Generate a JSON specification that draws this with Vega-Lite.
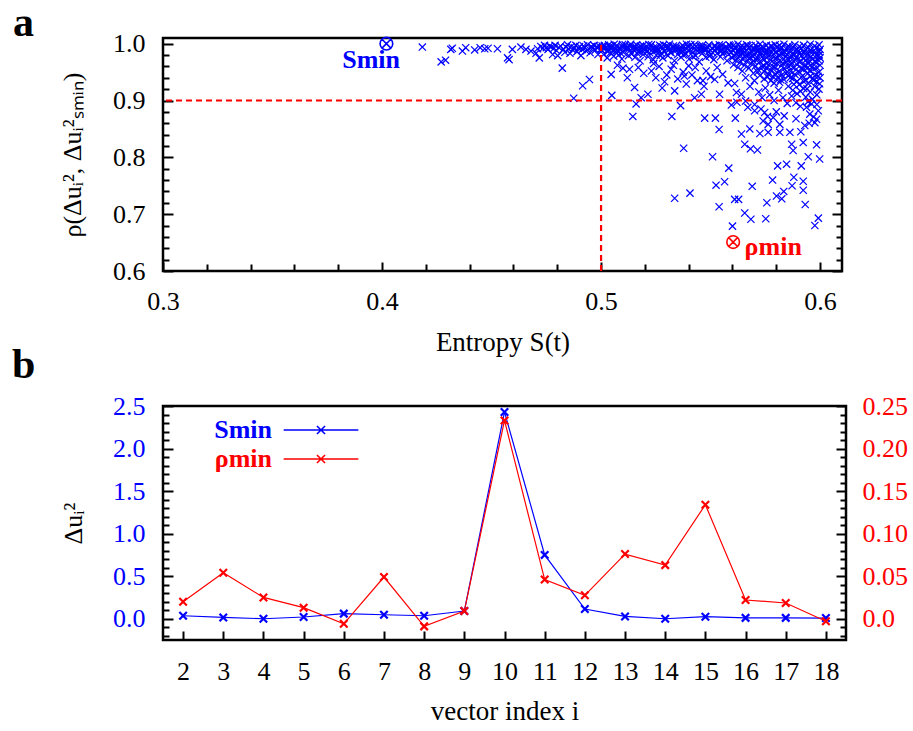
{
"$schema": "https://vega.github.io/schema/vega-lite/v6.json",
"background": "white",
"padding": {"left": 10, "top": 0, "right": 5, "bottom": 5},
"spacing": 135,
"bounds": "flush",
"resolve": {"scale": {"color": "independent", "stroke": "independent"}, "legend": {"color": "independent", "stroke": "independent"}},
"datasets": {
"pts": [
{"S":0.4184,"rho":0.994},{"S":0.4270,"rho":0.968},{"S":0.4290,"rho":0.971},{"S":0.4314,"rho":0.990},{"S":0.4321,"rho":0.992},{"S":0.4367,"rho":0.987},{"S":0.4382,"rho":0.993},{"S":0.4423,"rho":0.989},{"S":0.4448,"rho":0.993},{"S":0.4469,"rho":0.991},{"S":0.4484,"rho":0.992},{"S":0.4527,"rho":0.991},{"S":0.4573,"rho":0.975},{"S":0.4580,"rho":0.972},{"S":0.4595,"rho":0.990},{"S":0.4634,"rho":0.994},{"S":0.4657,"rho":0.990},{"S":0.4680,"rho":0.987},{"S":0.4703,"rho":0.983},{"S":0.4718,"rho":0.975},{"S":0.4710,"rho":0.991},{"S":0.4725,"rho":0.995},{"S":0.4735,"rho":0.992},{"S":0.4742,"rho":0.997},{"S":0.4750,"rho":0.993},{"S":0.4758,"rho":0.990},{"S":0.4765,"rho":0.996},{"S":0.4772,"rho":0.994},{"S":0.4779,"rho":0.981},{"S":0.4785,"rho":0.992},{"S":0.4790,"rho":0.997},{"S":0.4796,"rho":0.988},{"S":0.4802,"rho":0.979},{"S":0.4808,"rho":0.993},{"S":0.4815,"rho":0.996},{"S":0.4823,"rho":0.957},{"S":0.4828,"rho":0.990},{"S":0.4835,"rho":0.985},{"S":0.4840,"rho":0.994},{"S":0.4847,"rho":0.998},{"S":0.4852,"rho":0.991},{"S":0.4858,"rho":0.983},{"S":0.4864,"rho":0.995},{"S":0.4870,"rho":0.989},{"S":0.4875,"rho":0.904},{"S":0.4878,"rho":0.993},{"S":0.4885,"rho":0.997},{"S":0.4890,"rho":0.986},{"S":0.4896,"rho":0.992},{"S":0.4902,"rho":0.995},{"S":0.4908,"rho":0.979},{"S":0.4914,"rho":0.990},{"S":0.4916,"rho":0.926},{"S":0.4920,"rho":0.996},{"S":0.4926,"rho":0.993},{"S":0.4932,"rho":0.987},{"S":0.4938,"rho":0.998},{"S":0.4944,"rho":0.991},{"S":0.4947,"rho":0.937},{"S":0.4950,"rho":0.984},{"S":0.4956,"rho":0.995},{"S":0.4962,"rho":0.992},{"S":0.4968,"rho":0.997},{"S":0.4974,"rho":0.989},{"S":0.4980,"rho":0.994},{"S":0.4986,"rho":0.981},{"S":0.4992,"rho":0.996},{"S":0.4998,"rho":0.990},
{"S":0.5005,"rho":0.996},{"S":0.5005,"rho":0.988},{"S":0.5012,"rho":0.981},{"S":0.5020,"rho":0.993},{"S":0.5028,"rho":0.975},{"S":0.5035,"rho":0.998},{"S":0.5035,"rho":0.990},{"S":0.5042,"rho":0.984},{"S":0.5050,"rho":0.995},{"S":0.5058,"rho":0.978},{"S":0.5065,"rho":0.992},{"S":0.5065,"rho":0.986},{"S":0.5072,"rho":0.997},{"S":0.5080,"rho":0.980},{"S":0.5088,"rho":0.990},{"S":0.5095,"rho":0.995},{"S":0.5095,"rho":0.973},{"S":0.5102,"rho":0.985},{"S":0.5110,"rho":0.998},{"S":0.5118,"rho":0.992},{"S":0.5125,"rho":0.979},{"S":0.5132,"rho":0.988},{"S":0.5132,"rho":0.996},{"S":0.5140,"rho":0.982},{"S":0.5148,"rho":0.994},{"S":0.5155,"rho":0.976},{"S":0.5162,"rho":0.991},{"S":0.5162,"rho":0.998},{"S":0.5170,"rho":0.986},{"S":0.5178,"rho":0.970},{"S":0.5185,"rho":0.993},{"S":0.5192,"rho":0.981},{"S":0.5192,"rho":0.997},{"S":0.5200,"rho":0.989},{"S":0.5208,"rho":0.995},{"S":0.5215,"rho":0.977},{"S":0.5222,"rho":0.991},{"S":0.5222,"rho":0.984},{"S":0.5230,"rho":0.998},{"S":0.5238,"rho":0.972},{"S":0.5245,"rho":0.987},{"S":0.5252,"rho":0.994},{"S":0.5252,"rho":0.980},{"S":0.5260,"rho":0.990},{"S":0.5268,"rho":0.997},{"S":0.5275,"rho":0.983},{"S":0.5282,"rho":0.975},{"S":0.5282,"rho":0.992},{"S":0.5290,"rho":0.986},{"S":0.5298,"rho":0.996},{"S":0.5305,"rho":0.979},{"S":0.5312,"rho":0.990},{"S":0.5312,"rho":0.999},{"S":0.5320,"rho":0.984},{"S":0.5328,"rho":0.993},{"S":0.5335,"rho":0.970},{"S":0.5342,"rho":0.988},{"S":0.5342,"rho":0.996},{"S":0.5350,"rho":0.981},{"S":0.5358,"rho":0.992},{"S":0.5365,"rho":0.976},{"S":0.5372,"rho":0.997},{"S":0.5372,"rho":0.986},{"S":0.5380,"rho":0.990},{"S":0.5388,"rho":0.982},{"S":0.5395,"rho":0.995},{"S":0.5402,"rho":0.973},{"S":0.5402,"rho":0.988},{"S":0.5410,"rho":0.998},{"S":0.5418,"rho":0.985},{"S":0.5425,"rho":0.992},{"S":0.5432,"rho":0.979},{"S":0.5432,"rho":0.995},{"S":0.5440,"rho":0.987},{"S":0.5448,"rho":0.968},{"S":0.5455,"rho":0.993},{"S":0.5462,"rho":0.983},{"S":0.5462,"rho":0.997},{"S":0.5470,"rho":0.990},{"S":0.5478,"rho":0.976},{"S":0.5485,"rho":0.994},{"S":0.5492,"rho":0.986},{"S":0.5492,"rho":0.998},{"S":0.5500,"rho":0.981},{"S":0.5508,"rho":0.991},{"S":0.5515,"rho":0.972},{"S":0.5522,"rho":0.996},{"S":0.5522,"rho":0.988},{"S":0.5530,"rho":0.983},{"S":0.5538,"rho":0.993},{"S":0.5545,"rho":0.977},{"S":0.5552,"rho":0.990},{"S":0.5552,"rho":0.997},{"S":0.5560,"rho":0.985},{"S":0.5568,"rho":0.994},{"S":0.5575,"rho":0.970},{"S":0.5582,"rho":0.988},{"S":0.5582,"rho":0.981},{"S":0.5590,"rho":0.996},{"S":0.5598,"rho":0.975},
{"S":0.5015,"rho":0.997},{"S":0.5045,"rho":0.991},{"S":0.5075,"rho":0.987},{"S":0.5105,"rho":0.993},{"S":0.5135,"rho":0.999},{"S":0.5165,"rho":0.983},{"S":0.5195,"rho":0.992},{"S":0.5225,"rho":0.996},{"S":0.5255,"rho":0.988},{"S":0.5285,"rho":0.998},{"S":0.5315,"rho":0.985},{"S":0.5345,"rho":0.992},{"S":0.5375,"rho":0.980},{"S":0.5405,"rho":0.996},{"S":0.5435,"rho":0.989},{"S":0.5465,"rho":0.993},{"S":0.5495,"rho":0.978},{"S":0.5525,"rho":0.992},{"S":0.5555,"rho":0.982},{"S":0.5585,"rho":0.998},{"S":0.5030,"rho":0.986},{"S":0.5060,"rho":0.999},{"S":0.5090,"rho":0.983},{"S":0.5120,"rho":0.995},{"S":0.5150,"rho":0.989},{"S":0.5180,"rho":0.996},{"S":0.5210,"rho":0.986},{"S":0.5240,"rho":0.993},{"S":0.5270,"rho":0.979},{"S":0.5300,"rho":0.991},{"S":0.5330,"rho":0.996},{"S":0.5360,"rho":0.987},{"S":0.5390,"rho":0.999},{"S":0.5420,"rho":0.977},{"S":0.5450,"rho":0.996},{"S":0.5480,"rho":0.990},{"S":0.5510,"rho":0.984},{"S":0.5540,"rho":0.998},{"S":0.5570,"rho":0.988},{"S":0.5595,"rho":0.985},
{"S":0.5008,"rho":0.9925},{"S":0.5038,"rho":0.9945},{"S":0.5068,"rho":0.9905},{"S":0.5098,"rho":0.9985},{"S":0.5128,"rho":0.9915},{"S":0.5158,"rho":0.9945},{"S":0.5188,"rho":0.9875},{"S":0.5218,"rho":0.9985},{"S":0.5248,"rho":0.9905},{"S":0.5278,"rho":0.9945},{"S":0.5308,"rho":0.9945},{"S":0.5338,"rho":0.9905},{"S":0.5368,"rho":0.9925},{"S":0.5398,"rho":0.9875},{"S":0.5428,"rho":0.9985},{"S":0.5458,"rho":0.9885},{"S":0.5488,"rho":0.9925},{"S":0.5518,"rho":0.9965},{"S":0.5548,"rho":0.9865},{"S":0.5578,"rho":0.9925},
{"S":0.5605,"rho":0.997},{"S":0.5605,"rho":0.988},{"S":0.5605,"rho":0.979},{"S":0.5605,"rho":0.963},{"S":0.5615,"rho":0.992},{"S":0.5615,"rho":0.983},{"S":0.5615,"rho":0.971},{"S":0.5625,"rho":0.999},{"S":0.5625,"rho":0.986},{"S":0.5625,"rho":0.975},{"S":0.5625,"rho":0.958},{"S":0.5635,"rho":0.994},{"S":0.5635,"rho":0.980},{"S":0.5635,"rho":0.967},{"S":0.5645,"rho":0.990},{"S":0.5645,"rho":0.996},{"S":0.5645,"rho":0.973},{"S":0.5645,"rho":0.952},{"S":0.5655,"rho":0.985},{"S":0.5655,"rho":0.977},{"S":0.5655,"rho":0.962},{"S":0.5665,"rho":0.998},{"S":0.5665,"rho":0.989},{"S":0.5665,"rho":0.969},{"S":0.5675,"rho":0.993},{"S":0.5675,"rho":0.981},{"S":0.5675,"rho":0.974},{"S":0.5675,"rho":0.957},{"S":0.5685,"rho":0.996},{"S":0.5685,"rho":0.987},{"S":0.5685,"rho":0.965},{"S":0.5695,"rho":0.991},{"S":0.5695,"rho":0.978},{"S":0.5695,"rho":0.970},{"S":0.5695,"rho":0.948},{"S":0.5705,"rho":0.997},{"S":0.5705,"rho":0.984},{"S":0.5705,"rho":0.961},{"S":0.5715,"rho":0.993},{"S":0.5715,"rho":0.988},{"S":0.5715,"rho":0.975},{"S":0.5715,"rho":0.955},{"S":0.5725,"rho":0.999},{"S":0.5725,"rho":0.982},{"S":0.5725,"rho":0.968},{"S":0.5725,"rho":0.944},{"S":0.5735,"rho":0.990},{"S":0.5735,"rho":0.995},{"S":0.5735,"rho":0.977},{"S":0.5735,"rho":0.960},{"S":0.5745,"rho":0.986},{"S":0.5745,"rho":0.972},{"S":0.5745,"rho":0.951},{"S":0.5745,"rho":0.938},{"S":0.5755,"rho":0.997},{"S":0.5755,"rho":0.983},{"S":0.5755,"rho":0.966},{"S":0.5755,"rho":0.957},{"S":0.5765,"rho":0.992},{"S":0.5765,"rho":0.979},{"S":0.5765,"rho":0.963},{"S":0.5765,"rho":0.946},{"S":0.5775,"rho":0.996},{"S":0.5775,"rho":0.987},{"S":0.5775,"rho":0.971},{"S":0.5775,"rho":0.953},{"S":0.5775,"rho":0.935},{"S":0.5785,"rho":0.990},{"S":0.5785,"rho":0.980},{"S":0.5785,"rho":0.960},{"S":0.5785,"rho":0.942},{"S":0.5795,"rho":0.998},{"S":0.5795,"rho":0.985},{"S":0.5795,"rho":0.974},{"S":0.5795,"rho":0.958},{"S":0.5795,"rho":0.947},{"S":0.5805,"rho":0.994},{"S":0.5805,"rho":0.976},{"S":0.5805,"rho":0.965},{"S":0.5805,"rho":0.940},{"S":0.5815,"rho":0.989},{"S":0.5815,"rho":0.997},{"S":0.5815,"rho":0.970},{"S":0.5815,"rho":0.952},{"S":0.5815,"rho":0.932},{"S":0.5825,"rho":0.993},{"S":0.5825,"rho":0.982},{"S":0.5825,"rho":0.962},{"S":0.5825,"rho":0.945},{"S":0.5835,"rho":0.999},{"S":0.5835,"rho":0.986},{"S":0.5835,"rho":0.973},{"S":0.5835,"rho":0.956},{"S":0.5835,"rho":0.937},{"S":0.5845,"rho":0.991},{"S":0.5845,"rho":0.978},{"S":0.5845,"rho":0.967},{"S":0.5845,"rho":0.948},{"S":0.5855,"rho":0.996},{"S":0.5855,"rho":0.984},{"S":0.5855,"rho":0.960},{"S":0.5855,"rho":0.943},{"S":0.5855,"rho":0.925},{"S":0.5865,"rho":0.988},{"S":0.5865,"rho":0.975},{"S":0.5865,"rho":0.969},{"S":0.5865,"rho":0.951},{"S":0.5875,"rho":0.994},{"S":0.5875,"rho":0.981},{"S":0.5875,"rho":0.958},{"S":0.5875,"rho":0.939},{"S":0.5875,"rho":0.918},{"S":0.5885,"rho":0.998},{"S":0.5885,"rho":0.987},{"S":0.5885,"rho":0.972},{"S":0.5885,"rho":0.946},{"S":0.5895,"rho":0.990},{"S":0.5895,"rho":0.977},{"S":0.5895,"rho":0.963},{"S":0.5895,"rho":0.934},{"S":0.5895,"rho":0.912},{"S":0.5905,"rho":0.995},{"S":0.5905,"rho":0.983},{"S":0.5905,"rho":0.968},{"S":0.5905,"rho":0.950},{"S":0.5905,"rho":0.928},{"S":0.5915,"rho":0.992},{"S":0.5915,"rho":0.979},{"S":0.5915,"rho":0.957},{"S":0.5915,"rho":0.941},{"S":0.5925,"rho":0.997},{"S":0.5925,"rho":0.986},{"S":0.5925,"rho":0.974},{"S":0.5925,"rho":0.955},{"S":0.5925,"rho":0.921},{"S":0.5935,"rho":0.989},{"S":0.5935,"rho":0.971},{"S":0.5935,"rho":0.962},{"S":0.5935,"rho":0.936},{"S":0.5935,"rho":0.906},{"S":0.5945,"rho":0.994},{"S":0.5945,"rho":0.982},{"S":0.5945,"rho":0.965},{"S":0.5945,"rho":0.948},{"S":0.5945,"rho":0.930},{"S":0.5955,"rho":0.999},{"S":0.5955,"rho":0.988},{"S":0.5955,"rho":0.976},{"S":0.5955,"rho":0.953},{"S":0.5955,"rho":0.915},{"S":0.5965,"rho":0.991},{"S":0.5965,"rho":0.973},{"S":0.5965,"rho":0.960},{"S":0.5965,"rho":0.938},{"S":0.5965,"rho":0.902},{"S":0.5975,"rho":0.996},{"S":0.5975,"rho":0.984},{"S":0.5975,"rho":0.969},{"S":0.5975,"rho":0.944},{"S":0.5975,"rho":0.925},{"S":0.5985,"rho":0.993},{"S":0.5985,"rho":0.979},{"S":0.5985,"rho":0.958},{"S":0.5985,"rho":0.933},{"S":0.5985,"rho":0.910},{"S":0.5995,"rho":0.998},{"S":0.5995,"rho":0.986},{"S":0.5995,"rho":0.970},{"S":0.5995,"rho":0.950},{"S":0.5995,"rho":0.920},{"S":0.6000,"rho":0.990},{"S":0.6000,"rho":0.975},{"S":0.6000,"rho":0.962},{"S":0.6000,"rho":0.940},
{"S":0.5610,"rho":0.9935},{"S":0.5620,"rho":0.9815},{"S":0.5630,"rho":0.9905},{"S":0.5640,"rho":0.9845},{"S":0.5650,"rho":0.9935},{"S":0.5660,"rho":0.9795},{"S":0.5670,"rho":0.9965},{"S":0.5680,"rho":0.9755},{"S":0.5690,"rho":0.9845},{"S":0.5700,"rho":0.9915},{"S":0.5710,"rho":0.9705},{"S":0.5720,"rho":0.9875},{"S":0.5730,"rho":0.9845},{"S":0.5740,"rho":0.9935},{"S":0.5750,"rho":0.9775},{"S":0.5760,"rho":0.9875},{"S":0.5770,"rho":0.9805},{"S":0.5780,"rho":0.9955},{"S":0.5790,"rho":0.9665},{"S":0.5800,"rho":0.9855},{"S":0.5810,"rho":0.9795},{"S":0.5820,"rho":0.9905},{"S":0.5830,"rho":0.9655},{"S":0.5840,"rho":0.9845},{"S":0.5850,"rho":0.9735},{"S":0.5860,"rho":0.9935},{"S":0.5870,"rho":0.9635},{"S":0.5880,"rho":0.9795},{"S":0.5890,"rho":0.9545},{"S":0.5900,"rho":0.9875},{"S":0.5910,"rho":0.9685},{"S":0.5920,"rho":0.9435},{"S":0.5930,"rho":0.9815},{"S":0.5940,"rho":0.9565},{"S":0.5950,"rho":0.9705},{"S":0.5960,"rho":0.9835},{"S":0.5970,"rho":0.9555},{"S":0.5980,"rho":0.9685},{"S":0.5990,"rho":0.9425},{"S":0.5995,"rho":0.9795},
{"S":0.5760,"rho":0.9415},{"S":0.5790,"rho":0.9305},{"S":0.5820,"rho":0.9365},{"S":0.5850,"rho":0.9505},{"S":0.5880,"rho":0.9285},{"S":0.5910,"rho":0.9165},{"S":0.5940,"rho":0.9205},{"S":0.5970,"rho":0.9355},{"S":0.5998,"rho":0.9295},{"S":0.5955,"rho":0.9425},{"S":0.5925,"rho":0.9335},{"S":0.5865,"rho":0.9405},{"S":0.5805,"rho":0.9485},{"S":0.5745,"rho":0.9605},{"S":0.5715,"rho":0.9505},
{"S":0.5049,"rho":0.909},{"S":0.5046,"rho":0.946},{"S":0.5075,"rho":0.962},{"S":0.5100,"rho":0.957},{"S":0.5130,"rho":0.955},{"S":0.5153,"rho":0.923},{"S":0.5160,"rho":0.894},{"S":0.5183,"rho":0.905},{"S":0.5195,"rho":0.948},{"S":0.5214,"rho":0.911},{"S":0.5230,"rho":0.952},{"S":0.5250,"rho":0.940},{"S":0.5265,"rho":0.960},{"S":0.5279,"rho":0.922},{"S":0.5300,"rho":0.945},{"S":0.5320,"rho":0.955},{"S":0.5336,"rho":0.917},{"S":0.5350,"rho":0.938},{"S":0.5363,"rho":0.891},{"S":0.5375,"rho":0.950},{"S":0.5389,"rho":0.929},{"S":0.5400,"rho":0.961},{"S":0.5415,"rho":0.945},{"S":0.5427,"rho":0.905},{"S":0.5440,"rho":0.935},{"S":0.5458,"rho":0.911},{"S":0.5465,"rho":0.935},{"S":0.5480,"rho":0.952},{"S":0.5500,"rho":0.942},{"S":0.5519,"rho":0.937},{"S":0.5530,"rho":0.958},{"S":0.5541,"rho":0.911},{"S":0.5555,"rho":0.946},{"S":0.5580,"rho":0.931},{"S":0.5595,"rho":0.892},{"S":0.5610,"rho":0.930},{"S":0.5618,"rho":0.914},{"S":0.5641,"rho":0.911},{"S":0.5660,"rho":0.940},{"S":0.5680,"rho":0.925},{"S":0.5700,"rho":0.935},{"S":0.5720,"rho":0.915},{"S":0.5735,"rho":0.905},{"S":0.5750,"rho":0.922},{"S":0.5770,"rho":0.910},{"S":0.5790,"rho":0.900},{"S":0.5810,"rho":0.918},{"S":0.5830,"rho":0.905},{"S":0.5850,"rho":0.895},{"S":0.5870,"rho":0.908},{"S":0.5890,"rho":0.896},{"S":0.5910,"rho":0.890},{"S":0.5945,"rho":0.898},{"S":0.5985,"rho":0.893},{"S":0.5120,"rho":0.940},{"S":0.5170,"rho":0.958},{"S":0.5240,"rho":0.965},{"S":0.5290,"rho":0.933},{"S":0.5330,"rho":0.962},{"S":0.5380,"rho":0.943},{"S":0.5430,"rho":0.958},{"S":0.5470,"rho":0.925},
{"S":0.5145,"rho":0.872},{"S":0.5323,"rho":0.872},{"S":0.5473,"rho":0.869},{"S":0.5522,"rho":0.869},{"S":0.5613,"rho":0.869},{"S":0.5539,"rho":0.849},{"S":0.5377,"rho":0.816},{"S":0.5509,"rho":0.801},{"S":0.5583,"rho":0.781},{"S":0.5525,"rho":0.751},{"S":0.5564,"rho":0.757},{"S":0.5336,"rho":0.728},{"S":0.5406,"rho":0.737},{"S":0.5539,"rho":0.713},{"S":0.5610,"rho":0.726},{"S":0.5628,"rho":0.726},{"S":0.5690,"rho":0.749},{"S":0.5600,"rho":0.679},{"S":0.5656,"rho":0.702},{"S":0.5684,"rho":0.691},{"S":0.5752,"rho":0.692},{"S":0.5757,"rho":0.720},{"S":0.5801,"rho":0.732},{"S":0.5825,"rho":0.727},{"S":0.5783,"rho":0.760},{"S":0.5806,"rho":0.785},{"S":0.5847,"rho":0.788},{"S":0.5834,"rho":0.740},{"S":0.5880,"rho":0.765},{"S":0.5872,"rho":0.750},{"S":0.5923,"rho":0.758},{"S":0.5923,"rho":0.742},{"S":0.5932,"rho":0.717},{"S":0.5914,"rho":0.785},{"S":0.5946,"rho":0.801},{"S":0.5998,"rho":0.797},{"S":0.5984,"rho":0.822},{"S":0.5923,"rho":0.826},{"S":0.5870,"rho":0.823},{"S":0.5877,"rho":0.812},{"S":0.5992,"rho":0.693},{"S":0.5976,"rho":0.680},{"S":0.5641,"rho":0.841},{"S":0.5656,"rho":0.823},{"S":0.5682,"rho":0.815},{"S":0.5714,"rho":0.813},{"S":0.5679,"rho":0.850},{"S":0.5725,"rho":0.842},{"S":0.5763,"rho":0.844},{"S":0.5816,"rho":0.844},{"S":0.5862,"rho":0.844},{"S":0.5912,"rho":0.845},{"S":0.5740,"rho":0.864},{"S":0.5763,"rho":0.858},{"S":0.5786,"rho":0.870},{"S":0.5816,"rho":0.858},{"S":0.5836,"rho":0.873},{"S":0.5747,"rho":0.879},{"S":0.5701,"rho":0.882},{"S":0.5670,"rho":0.888},{"S":0.5701,"rho":0.893},{"S":0.5938,"rho":0.888},{"S":0.5953,"rho":0.876},{"S":0.5984,"rho":0.867},{"S":0.5976,"rho":0.861},{"S":0.5930,"rho":0.856},{"S":0.5992,"rho":0.882},{"S":0.5961,"rho":0.894},{"S":0.5970,"rho":0.871},{"S":0.5950,"rho":0.860},{"S":0.5890,"rho":0.868},{"S":0.5760,"rho":0.872},{"S":0.5800,"rho":0.880},{"S":0.5730,"rho":0.885},{"S":0.5620,"rho":0.897},{"S":0.5660,"rho":0.899}
],
"marks": [
{"S":0.402,"rho":1.0,"kind":"Smin","label":"Smin","lx":0.395,"ly":0.972},
{"S":0.5603,"rho":0.651,"kind":"rhomin","label":"ρmin","lx":0.5786,"ly":0.643}
],
"smin": [
{"i":2,"v":0.035},{"i":3,"v":0.015},{"i":4,"v":0.0},{"i":5,"v":0.02},{"i":6,"v":0.06},{"i":7,"v":0.047},{"i":8,"v":0.035},{"i":9,"v":0.09},{"i":10,"v":2.43},{"i":11,"v":0.75},{"i":12,"v":0.114},{"i":13,"v":0.027},{"i":14,"v":0.0},{"i":15,"v":0.024},{"i":16,"v":0.01},{"i":17,"v":0.01},{"i":18,"v":0.008}
],
"rhomin": [
{"i":2,"v":0.020},{"i":3,"v":0.054},{"i":4,"v":0.025},{"i":5,"v":0.013},{"i":6,"v":-0.006},{"i":7,"v":0.049},{"i":8,"v":-0.009},{"i":9,"v":0.009},{"i":10,"v":0.233},{"i":11,"v":0.046},{"i":12,"v":0.0275},{"i":13,"v":0.076},{"i":14,"v":0.063},{"i":15,"v":0.134},{"i":16,"v":0.022},{"i":17,"v":0.0185},{"i":18,"v":-0.003}
]
},
"vconcat": [
{
"width": 679, "height": 233,
"title": {"text": "a", "anchor": "start", "frame": "group", "dx": -150, "fontSize": 42, "font": "Liberation Serif", "fontWeight": "bold", "color": "black", "offset": -14},
"layer": [
{"data": {"name": "pts"},
 "mark": {"type": "point", "shape": "M-1,-1L1,1M-1,1L1,-1", "size": 52, "filled": false, "color": "#0000ff", "strokeWidth": 1.2, "opacity": 1},
 "encoding": {
  "x": {"field": "S", "type": "quantitative", "scale": {"domain": [0.3, 0.61], "nice": false, "zero": false},
        "axis": {"orient": "bottom", "values": [0.3, 0.4, 0.5, 0.6], "format": ".1f", "tickSize": -9, "labelPadding": 26, "title": "Entropy S(t)", "titlePadding": 15}},
  "y": {"field": "rho", "type": "quantitative", "scale": {"domain": [0.6, 1.01], "nice": false, "zero": false},
        "axis": {"orient": "left", "values": [0.6, 0.7, 0.8, 0.9, 1.0], "format": ".1f", "tickSize": -10, "labelPadding": 28, "title": "ρ(Δuᵢ², Δuᵢ²ₛₘᵢₙ)", "titleFontSize": 26, "titlePadding": 27}}
 }},
{"data": {"values": [{}]},
 "mark": {"type": "rule", "color": "#ff0000", "strokeWidth": 2.2, "strokeDash": [6, 4]},
 "encoding": {
  "x": {"datum": 0.5, "type": "quantitative", "scale": {"domain": [0.3, 0.61], "nice": false, "zero": false},
        "axis": {"orient": "bottom", "values": [0.32, 0.34, 0.36, 0.38, 0.42, 0.44, 0.46, 0.48, 0.52, 0.54, 0.56, 0.58], "tickSize": -7, "labels": false, "title": null}},
  "y": {"datum": 0.6, "type": "quantitative", "scale": {"domain": [0.6, 1.01], "nice": false, "zero": false},
        "axis": {"orient": "left", "values": [0.62, 0.64, 0.66, 0.68, 0.72, 0.74, 0.76, 0.78, 0.82, 0.84, 0.86, 0.88, 0.92, 0.94, 0.96, 0.98], "tickSize": -6, "labels": false, "title": null}},
  "y2": {"datum": 1.0}
 }},
{"data": {"values": [{}]},
 "mark": {"type": "rule", "color": "#ff0000", "strokeWidth": 2.2, "strokeDash": [6, 4]},
 "encoding": {
  "y": {"datum": 0.9, "type": "quantitative", "scale": {"domain": [0.6, 1.01], "nice": false, "zero": false},
        "axis": {"orient": "right", "values": [0.6, 0.7, 0.8, 0.9, 1.0], "tickSize": -10, "labels": false, "title": null}}
 }},
{"data": {"name": "marks"},
 "mark": {"type": "point", "shape": "M1,0A1,1 0 1,1 -1,0A1,1 0 1,1 1,0M-0.7,-0.7L0.7,0.7M-0.7,0.7L0.7,-0.7", "size": 160, "filled": false, "strokeWidth": 1.6, "opacity": 1},
 "encoding": {
  "x": {"field": "S", "type": "quantitative", "scale": {"domain": [0.3, 0.61], "nice": false, "zero": false}, "axis": null},
  "y": {"field": "rho", "type": "quantitative", "scale": {"domain": [0.6, 1.01], "nice": false, "zero": false},
        "axis": {"orient": "right", "values": [0.62, 0.64, 0.66, 0.68, 0.72, 0.74, 0.76, 0.78, 0.82, 0.84, 0.86, 0.88, 0.92, 0.94, 0.96, 0.98], "tickSize": -6, "labels": false, "title": null}},
  "color": {"field": "kind", "type": "nominal", "scale": {"domain": ["Smin", "rhomin"], "range": ["#0000ff", "#ff0000"]}, "legend": null}
 }},
{"data": {"name": "marks"},
 "mark": {"type": "text", "font": "Liberation Serif", "fontSize": 26, "fontWeight": "bold", "align": "center", "baseline": "middle"},
 "encoding": {
  "x": {"field": "lx", "type": "quantitative", "scale": {"domain": [0.3, 0.61], "nice": false, "zero": false}, "axis": null},
  "y": {"field": "ly", "type": "quantitative", "scale": {"domain": [0.6, 1.01], "nice": false, "zero": false}, "axis": null},
  "text": {"field": "label"},
  "color": {"field": "kind", "type": "nominal", "scale": {"domain": ["Smin", "rhomin"], "range": ["#0000ff", "#ff0000"]}, "legend": null}
 }}
],
"resolve": {"axis": {"x": "independent", "y": "independent"}}
},
{
"width": 683, "height": 234,
"title": {"text": "b", "anchor": "start", "frame": "group", "dx": -151, "fontSize": 42, "font": "Liberation Serif", "fontWeight": "bold", "color": "black", "offset": 6},
"layer": [
{"data": {"name": "smin"},
 "mark": {"type": "line", "strokeWidth": 1.2},
 "encoding": {
  "x": {"field": "i", "type": "quantitative", "scale": {"domain": [1.5, 18.5], "nice": false, "zero": false},
        "axis": {"orient": "bottom", "values": [2,3,4,5,6,7,8,9,10,11,12,13,14,15,16,17,18], "format": "d", "tickSize": -9, "labelPadding": 27, "title": "vector index i", "titlePadding": 14}},
  "y": {"field": "v", "type": "quantitative", "scale": {"domain": [-0.25, 2.5], "nice": false, "zero": false},
        "axis": {"orient": "left", "values": [0, 0.5, 1, 1.5, 2, 2.5], "format": ".1f", "labelColor": "#0000ff", "tickSize": -10, "labelPadding": 28, "title": "Δuᵢ²", "titleFontSize": 26, "titlePadding": 26}},
  "color": {"datum": "Smin", "type": "nominal", "scale": {"domain": ["Smin"], "range": ["#0000ff"]},
        "legend": {"orient": "none", "legendX": 145, "legendY": 11, "title": null, "padding": 0,
                   "symbolType": "M-8.3,0H8.3M-0.9,-0.9L0.9,0.9M-0.9,0.9L0.9,-0.9", "symbolSize": 81, "symbolStrokeWidth": 1.6,
                   "labelFont": "Liberation Serif", "labelFontSize": 26, "labelFontWeight": "bold", "labelAlign": "right", "labelBaseline": "middle", "labelOffset": -62,
                   "labelColor": "#0000ff"}}
 }},
{"data": {"name": "smin"},
 "mark": {"type": "point", "shape": "M-1,-1L1,1M-1,1L1,-1", "size": 56, "filled": false, "color": "#0000ff", "strokeWidth": 2.2, "opacity": 1},
 "encoding": {
  "x": {"field": "i", "type": "quantitative", "scale": {"domain": [1.5, 18.5], "nice": false, "zero": false}, "axis": null},
  "y": {"field": "v", "type": "quantitative", "scale": {"domain": [-0.25, 2.5], "nice": false, "zero": false},
        "axis": {"orient": "left", "values": [-0.2, -0.1, 0.1, 0.2, 0.3, 0.4, 0.6, 0.7, 0.8, 0.9, 1.1, 1.2, 1.3, 1.4, 1.6, 1.7, 1.8, 1.9, 2.1, 2.2, 2.3, 2.4], "tickSize": -6, "labels": false, "title": null}}
 }},
{"data": {"name": "rhomin"},
 "mark": {"type": "line", "strokeWidth": 1.2},
 "encoding": {
  "x": {"field": "i", "type": "quantitative", "scale": {"domain": [1.5, 18.5], "nice": false, "zero": false}, "axis": null},
  "y": {"field": "v", "type": "quantitative", "scale": {"domain": [-0.025, 0.25], "nice": false, "zero": false},
        "axis": {"orient": "right", "values": [0, 0.05, 0.1, 0.15, 0.2, 0.25], "labelExpr": "datum.value === 0 ? '0.0' : format(datum.value, '.2f')", "labelColor": "#ff0000", "tickSize": -10, "labelPadding": 26, "title": null}},
  "stroke": {"datum": "ρmin", "type": "nominal", "scale": {"domain": ["ρmin"], "range": ["#ff0000"]},
        "legend": {"orient": "none", "legendX": 145, "legendY": 40, "title": null, "padding": 0,
                   "symbolType": "M-8.3,0H8.3M-0.9,-0.9L0.9,0.9M-0.9,0.9L0.9,-0.9", "symbolSize": 81, "symbolStrokeWidth": 1.6,
                   "labelFont": "Liberation Serif", "labelFontSize": 26, "labelFontWeight": "bold", "labelAlign": "right", "labelBaseline": "middle", "labelOffset": -62,
                   "labelColor": "#ff0000"}}
 }},
{"data": {"name": "rhomin"},
 "mark": {"type": "point", "shape": "M-1,-1L1,1M-1,1L1,-1", "size": 56, "filled": false, "color": "#ff0000", "strokeWidth": 2.2, "opacity": 1},
 "encoding": {
  "x": {"field": "i", "type": "quantitative", "scale": {"domain": [1.5, 18.5], "nice": false, "zero": false}, "axis": null},
  "y": {"field": "v", "type": "quantitative", "scale": {"domain": [-0.025, 0.25], "nice": false, "zero": false},
        "axis": {"orient": "right", "values": [-0.02, -0.01, 0.01, 0.02, 0.03, 0.04, 0.06, 0.07, 0.08, 0.09, 0.11, 0.12, 0.13, 0.14, 0.16, 0.17, 0.18, 0.19, 0.21, 0.22, 0.23, 0.24], "tickSize": -6, "labels": false, "title": null}}
 }}
],
"resolve": {"scale": {"y": "independent"}, "axis": {"x": "independent"}}
}
],
"config": {
 "view": {"stroke": "black", "strokeWidth": 2.5},
 "axis": {"domain": false, "grid": false, "tickColor": "black", "tickWidth": 2, "labelFont": "Liberation Serif", "labelFontSize": 26, "labelColor": "black", "titleFont": "Liberation Serif", "titleFontSize": 27, "titleFontWeight": "normal", "titleColor": "black", "labelFlush": false, "labelOverlap": false},
 "title": {"baseline": "alphabetic"}
}
}
